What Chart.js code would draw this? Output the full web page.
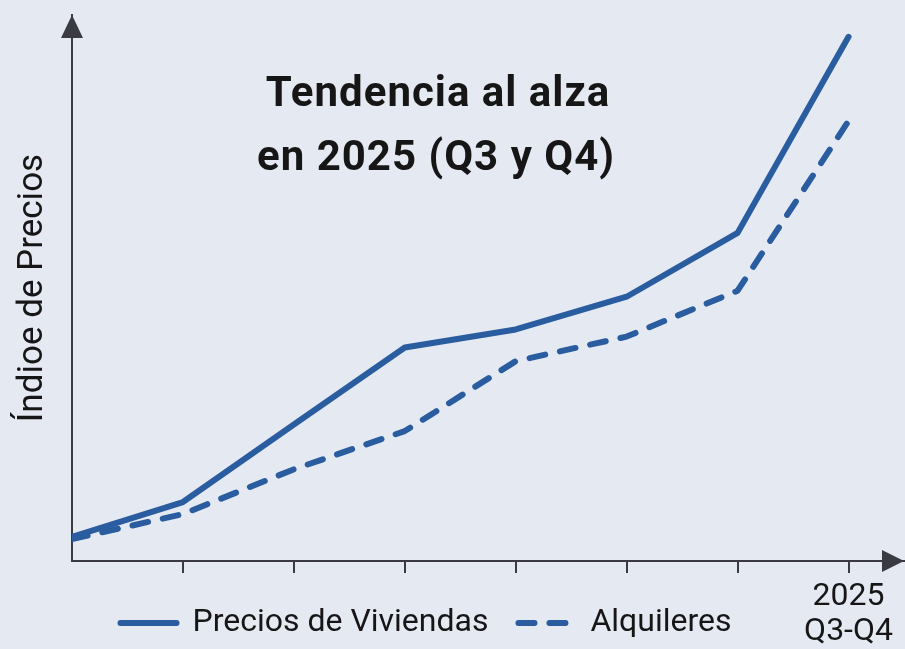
<!DOCTYPE html>
<html>
<head>
<meta charset="utf-8">
<script src="https://cdn.jsdelivr.net/npm/chart.js@4.4.1/dist/chart.umd.min.js"></script>
<style>
  html, body { margin: 0; padding: 0; background: #e5eaf2; }
  #wrap { width: 905px; height: 649px; }
</style>
</head>
<body>
<div id="wrap"><canvas id="tendencia"></canvas></div>
<script>
var periodos = [0, 1, 2, 3, 4, 5, 6, 7];
var etiquetaFinal = ['2025', 'Q3-Q4'];
var precios = [4.4, 10.8, 25.0, 39.1, 42.4, 48.4, 60.1, 96.0];
var alquileres = [4.0, 8.6, 16.8, 23.8, 36.6, 41.1, 49.5, 80.6];
var titulo = ['Tendencia al alza', 'en 2025 (Q3 y Q4)'];

var azul = '#2a5ca0';
var eje = '#3a3b42';
var texto = '#161616';

function puntos(valores) {
  return periodos.map(function (p, i) { return { x: p, y: valores[i] }; });
}

// arrows on the axes + the title written inside the plot
var extras = {
  id: 'extras',
  afterLayout: function (chart) {
    // legend sits a little left of centre in the original
    chart.legend.left -= 26;
    chart.legend.right -= 26;
    // let the two-line x label run down past the squeezed axis box
    chart.scales.x.bottom = chart.height;
  },
  afterDraw: function (chart) {
    var ctx = chart.ctx, a = chart.chartArea;
    ctx.save();
    ctx.fillStyle = eje;
    ctx.beginPath();
    ctx.moveTo(a.left, a.top);
    ctx.lineTo(a.left - 11, a.top + 23);
    ctx.lineTo(a.left + 11, a.top + 23);
    ctx.fill();
    ctx.beginPath();
    ctx.moveTo(a.right, a.bottom);
    ctx.lineTo(a.right - 22, a.bottom - 11);
    ctx.lineTo(a.right - 22, a.bottom + 11);
    ctx.fill();

    ctx.fillStyle = texto;
    ctx.font = 'bold 42px Roboto';
    ctx.letterSpacing = '1px';
    ctx.textAlign = 'center';
    ctx.textBaseline = 'alphabetic';
    ctx.fillText(titulo[0], 438, 106);
    ctx.fillText(titulo[1], 436, 170);
    ctx.restore();
  }
};

var ctx = document.getElementById('tendencia').getContext('2d');

var myChart = new Chart(ctx, {
  type: 'line',
  data: {
    datasets: [{
        label: 'Precios de Viviendas',
        data: puntos(precios),
        borderColor: azul,
        backgroundColor: azul,
        borderWidth: 6,
        borderCapStyle: 'round',
        borderJoinStyle: 'round',
        pointRadius: 0,
        tension: 0,
        fill: false
      },
      {
        label: 'Alquileres',
        data: puntos(alquileres),
        borderColor: azul,
        backgroundColor: azul,
        borderWidth: 6,
        borderDash: [16, 15],
        borderCapStyle: 'round',
        borderJoinStyle: 'round',
        pointRadius: 0,
        tension: 0,
        fill: false
      }
    ]
  },
  options: {
    responsive: true,
    maintainAspectRatio: false,
    animation: false,
    layout: { padding: { top: 15, right: 1, left: 0, bottom: 0 } },
    plugins: {
      legend: {
        display: true,
        position: 'bottom',
        labels: {
          usePointStyle: true,
          pointStyle: 'line',
          pointStyleWidth: 56,
          padding: 30,
          color: texto,
          font: { family: 'Roboto', size: 32 },
          generateLabels: function (chart) {
            var items = Chart.defaults.plugins.legend.labels.generateLabels(chart);
            items.forEach(function (it) {
              var ds = chart.data.datasets[it.datasetIndex];
              it.lineDash = ds.borderDash || [];
              it.lineCap = 'round';
              it.lineWidth = ds.borderWidth;
            });
            return items;
          }
        }
      },
      tooltip: { enabled: false }
    },
    scales: {
      x: {
        type: 'linear',
        min: 0,
        max: 7.5,
        afterBuildTicks: function (s) {
          s.ticks = periodos.slice(1).map(function (v) { return { value: v }; });
        },
        afterFit: function (s) { s.height = 16; },
        grid: { display: true, drawOnChartArea: false, drawTicks: true, tickLength: 12, color: eje, lineWidth: 2 },
        border: { display: true, color: eje, width: 2 },
        ticks: {
          autoSkip: false,
          maxRotation: 0,
          padding: 6,
          color: texto,
          font: { family: 'Roboto', size: 32, lineHeight: 1.1 },
          callback: function (v) { return v === 7 ? etiquetaFinal : ''; }
        }
      },
      y: {
        min: 0,
        max: 100,
        afterFit: function (s) { s.width = 72; },
        grid: { display: false },
        border: { display: true, color: eje, width: 2 },
        ticks: { display: false },
        title: {
          display: true,
          text: 'Índioe de Precios',
          color: texto,
          font: { family: 'Roboto', size: 35 },
          padding: { top: 12, bottom: 0 }
        }
      }
    }
  },
  plugins: [extras]
});
</script>
</body>
</html>
